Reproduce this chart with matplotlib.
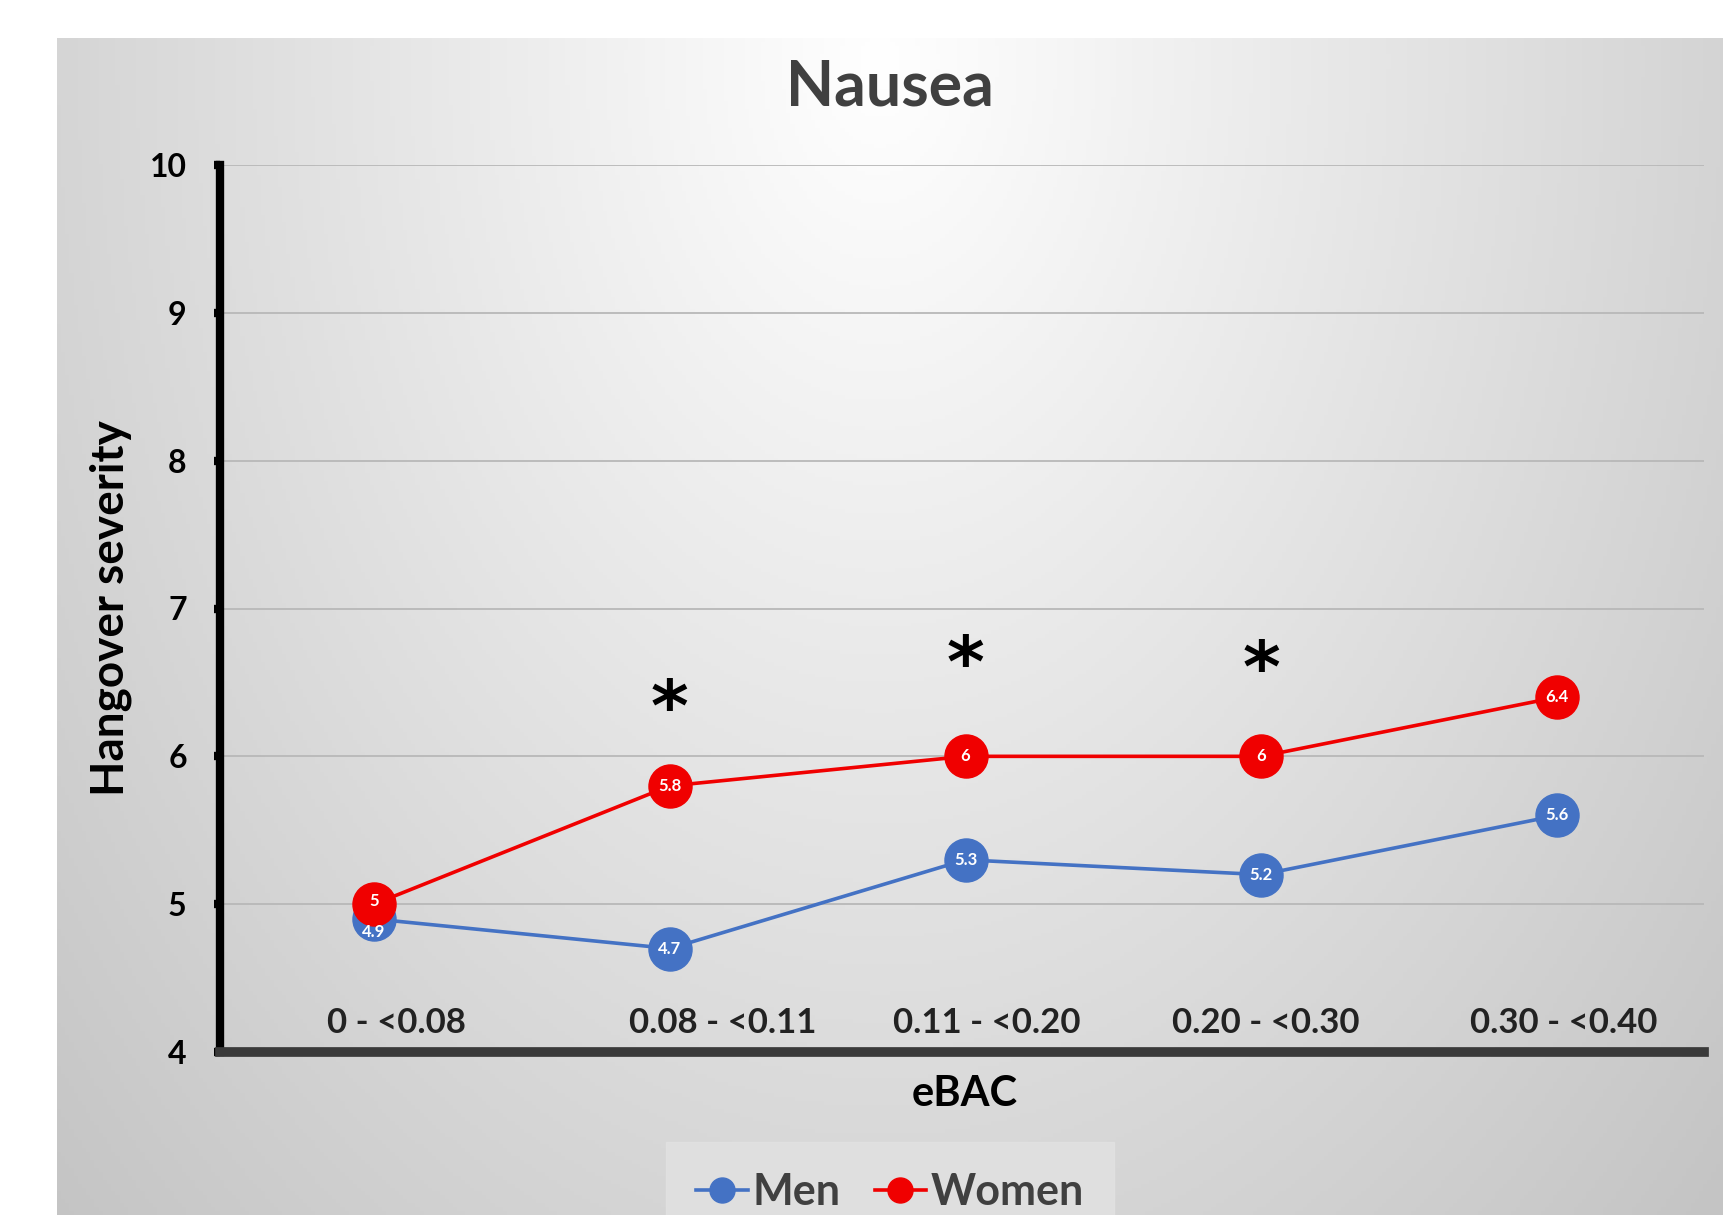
import numpy as np
import matplotlib
matplotlib.use("Agg")
import matplotlib.pyplot as plt
from matplotlib.lines import Line2D

categories = ["0 - <0.08", "0.08 - <0.11", "0.11 - <0.20", "0.20 - <0.30", "0.30 - <0.40"]
men = [4.9, 4.7, 5.3, 5.2, 5.6]
women = [5.0, 5.8, 6.0, 6.0, 6.4]
star_idx = [1, 2, 3]
star_y = [6.30, 6.60, 6.57]
yticks = [4, 5, 6, 7, 8, 9, 10]

plt.rcParams['font.family'] = ['Lato', 'DejaVu Sans']

W, H = 1724, 1215
fig = plt.figure(figsize=(W / 100, H / 100), dpi=100)
fig.patch.set_facecolor('white')

# background gradient panel
bx0, by0 = 57, 38
bg = fig.add_axes([bx0 / W, 0, 1 - bx0 / W, 1 - by0 / H], zorder=0)
gx = np.linspace(bx0, W, 400)
gy = np.linspace(by0, H, 300)
GX, GY = np.meshgrid(gx, gy)
t = np.sqrt(((GX - 880) / 900) ** 2 + ((GY - 60) / 1300) ** 2)
val = np.clip(1 - 0.18 * t, 0.77, 1.0)
bg.imshow(np.dstack([val, val, val]), aspect='auto', extent=[0, 1, 0, 1], origin='upper')
bg.set_axis_off()

ax = fig.add_axes([220 / W, 1 - 1052 / H, (1704 - 220) / W, (1052 - 165) / H], zorder=1)
ax.patch.set_alpha(0)
x = np.arange(len(categories))
ax.set_xlim(-0.521, 4.497)
ax.set_ylim(4, 10)

for yv in yticks[1:]:
    ax.axhline(yv, color='#b8b8b8', lw=1.3, zorder=1)

men_c = '#4472C4'
women_c = '#F00000'
ax.plot(x, men, color=men_c, lw=2.6, marker='o', ms=31, zorder=3)
ax.plot(x, women, color=women_c, lw=2.6, marker='o', ms=31, zorder=4)
for xi, v in zip(x, men):
    dy = -0.09 if xi == 0 else 0
    ax.text(xi, v + dy, f"{v:g}", color='white', fontsize=12, fontweight='bold',
            ha='center', va='center', zorder=5)
for xi, v in zip(x, women):
    dy = 0.02 if xi == 0 else 0
    ax.text(xi, v + dy, f"{v:g}", color='white', fontsize=12, fontweight='bold',
            ha='center', va='center', zorder=6)

for i, sy in zip(star_idx, star_y):
    ax.text(x[i], sy, "*", fontsize=52, fontweight='bold', ha='center', va='center',
            color='black', family='DejaVu Sans', zorder=6)

# category labels placed inside plot above the x axis
label_dx = [0.074, 0.178, 0.07, 0.015, 0.022]
for xi, lab, dx in zip(x, categories, label_dx):
    ax.text(xi + dx, 4.195, lab, fontsize=25, fontweight='bold', color='#222222',
            ha='center', va='center', zorder=6)
ax.set_xticks([])

ax.set_yticks(yticks)
ax.set_yticklabels([str(v) for v in yticks], fontsize=23, fontweight='bold')
ax.tick_params(axis='y', length=4, width=6, color='black', pad=20)

for s in ['top', 'right']:
    ax.spines[s].set_visible(False)
ax.spines['left'].set_linewidth(6)
ax.spines['left'].set_color('black')
ax.spines['bottom'].set_linewidth(7)
ax.spines['bottom'].set_color('#3a3a3a')

ax.set_ylabel("Hangover severity", fontsize=33, fontweight='bold')
ax.yaxis.set_label_coords(-0.059, 0.5)

fig.text(965 / W, 1 - 1094 / H, "eBAC", fontsize=30, fontweight='bold', ha='center', va='center')
fig.text(890 / W, 1 - 88 / H, "Nausea", fontsize=45, fontweight='bold', color='#404040',
         ha='center', va='center')

handles = [Line2D([0], [0], color=men_c, lw=2.6, marker='o', ms=18),
           Line2D([0], [0], color=women_c, lw=2.6, marker='o', ms=18)]
leg = fig.legend(handles, ["Men", "Women"], loc='center', bbox_to_anchor=(890 / W, 1 - 1192 / H),
                 ncol=2, frameon=True, fontsize=31, handlelength=1.2, handletextpad=0.1,
                 columnspacing=0.8, borderpad=0.4)
leg.get_frame().set_facecolor('#e2e2e2')
leg.get_frame().set_edgecolor('#e2e2e2')
leg.get_frame().set_boxstyle('square')
for tx in leg.get_texts():
    tx.set_color('#404040')
    tx.set_fontweight('bold')

fig.savefig("out.png", dpi=100)
